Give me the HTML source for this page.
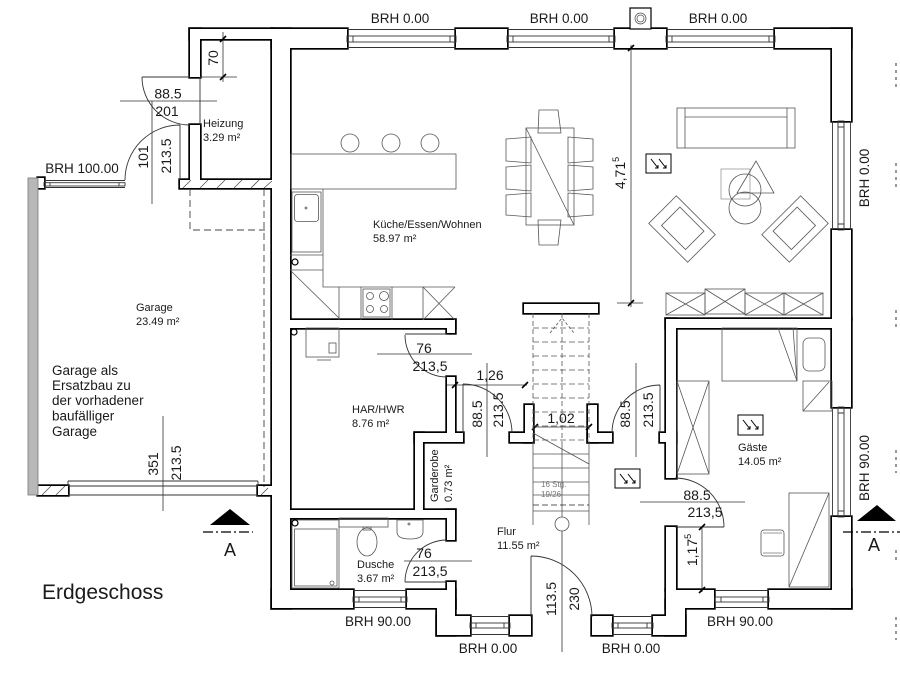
<!DOCTYPE html>
<html><head><meta charset="utf-8"><title>Erdgeschoss</title>
<style>
html,body{margin:0;padding:0;background:#fff;width:900px;height:674px;overflow:hidden}
svg{display:block}
text{font-family:"Liberation Sans",Arial,sans-serif;fill:#1a1a1a}
.t{stroke:#333;stroke-width:.9;fill:none}
.g{stroke:#555;stroke-width:.8;fill:none}
.d{stroke:#333;stroke-width:.8;fill:none}
.k{stroke:#000;stroke-width:1.6;fill:none}
.dash{stroke:#444;stroke-width:.9;fill:none;stroke-dasharray:7 4}
.brh{font-size:13.5px}
.rm{font-size:11px}
.dm{font-size:14px}
</style></head><body>
<svg width="900" height="674" viewBox="0 0 900 674" xmlns="http://www.w3.org/2000/svg">
<rect width="900" height="674" fill="#fff"/>
<defs>
<g id="W">
<rect x="190" y="29" width="82" height="10"/>
<rect x="190" y="29" width="10" height="48"/>
<rect x="190" y="125" width="10" height="55"/>
<rect x="180" y="180" width="92" height="8"/>
<rect x="272" y="29" width="18" height="579"/>
<rect x="272" y="29" width="75" height="19"/>
<rect x="456" y="29" width="51" height="19"/>
<rect x="615" y="29" width="51" height="19"/>
<rect x="775" y="29" width="76" height="19"/>
<rect x="832" y="29" width="19" height="92"/>
<rect x="832" y="230" width="19" height="89"/>
<rect x="832" y="319" width="19" height="88"/>
<rect x="832" y="517" width="19" height="91"/>
<rect x="769" y="590" width="82" height="18"/>
<rect x="666" y="590" width="48" height="18"/>
<rect x="666" y="527" width="10" height="63"/>
<rect x="666" y="600" width="19" height="35"/>
<rect x="653" y="616" width="32" height="19"/>
<rect x="592" y="616" width="20" height="19"/>
<rect x="510" y="616" width="21" height="19"/>
<rect x="437" y="616" width="33" height="19"/>
<rect x="437" y="600" width="18" height="35"/>
<rect x="407" y="590" width="48" height="18"/>
<rect x="447" y="582" width="8" height="26"/>
<rect x="272" y="590" width="81" height="18"/>
<rect x="447" y="510" width="8" height="30"/>
<rect x="290" y="510" width="165" height="8"/>
<rect x="415" y="433" width="48" height="9"/>
<rect x="415" y="433" width="8" height="77"/>
<rect x="447" y="377" width="8" height="56"/>
<rect x="290" y="320" width="165" height="8"/>
<rect x="447" y="320" width="8" height="13"/>
<rect x="510" y="433" width="23" height="9"/>
<rect x="525" y="405" width="8" height="37"/>
<rect x="588" y="433" width="24" height="9"/>
<rect x="588" y="405" width="9" height="37"/>
<rect x="660" y="433" width="16" height="9"/>
<rect x="666" y="319" width="10" height="159"/>
<rect x="666" y="319" width="166" height="9"/>
<rect x="524" y="304" width="74" height="9"/>
<rect x="38" y="178" width="6" height="10"/>
<rect x="38" y="486" width="30" height="9"/>
<rect x="258" y="486" width="14" height="9"/>
</g>
</defs>
<use href="#W" fill="none" stroke="#000" stroke-width="3.4"/>
<use href="#W" fill="#fff" stroke="none"/>

<!-- garage gray wall -->
<rect x="28" y="178" width="10" height="317" fill="#b8b8b8" stroke="#777" stroke-width=".8"/>
<!-- hatch -->
<g class="g">
<path d="M183 188L191 180M200 188L208 180M217 188L225 180M234 188L242 180M251 188L259 180M264 188L272 181"/>
<path d="M42 495L51 486M56 495L65 486M261 495L268 488"/>
</g>
<!-- chimney -->
<rect x="630" y="8" width="21" height="21" fill="#fff" stroke="#000" stroke-width="1.2"/>
<circle cx="640.5" cy="18.5" r="5.5" class="g"/><circle cx="640.5" cy="18.5" r="3.5" class="g"/>

<!-- windows -->
<g class="t">
<path d="M347 29.5H456M347 47.5H456M507 29.5H615M507 47.5H615M666 29.5H775M666 47.5H775"/>
<rect x="347" y="36" width="109" height="6"/><path d="M353 36V42M450 36V42"/>
<rect x="507" y="36" width="108" height="6"/><path d="M513 36V42M609 36V42"/>
<rect x="666" y="36" width="109" height="6"/><path d="M672 36V42M769 36V42"/>
<path d="M832.5 121V230M850.5 121V230M832.5 407V517M850.5 407V517"/>
<rect x="838" y="121" width="6" height="109"/><path d="M838 127H844M838 224H844"/>
<rect x="838" y="407" width="6" height="110"/><path d="M838 413H844M838 511H844"/>
<path d="M353 590.5H407M353 607.5H407M715 590.5H769M715 607.5H769"/>
<rect x="353" y="597" width="54" height="5"/><path d="M359 597V602M401 597V602"/>
<rect x="715" y="597" width="54" height="5"/><path d="M721 597V602M763 597V602"/>
<path d="M470 616.5H510M470 634.5H510M612 616.5H653M612 634.5H653"/>
<rect x="470" y="623" width="40" height="5"/><path d="M476 623V628M504 623V628"/>
<rect x="612" y="623" width="41" height="5"/><path d="M618 623V628M647 623V628"/>
<path d="M44 180.5H125M44 187.5H125"/>
<rect x="44" y="182.7" width="81" height="3.3"/><path d="M50 182.7V186M119 182.7V186"/>
<path d="M68 481H258M68 486H258M68 495H258M68 481V486M258 481V486"/>
</g>

<!-- garage dashed -->
<path class="dash" d="M190 189V230H265M264 189V487"/>

<!-- doors -->
<g class="t">
<path d="M142 77A48 48 0 0 0 190 125M142 77H190M200 77V125"/>
<path d="M125 180A55 55 0 0 1 180 125M180 125V180"/>
<path d="M405 335A42 42 0 0 0 447 377M405 334H447"/>
<path d="M463 384A49 49 0 0 1 512 433M463 384V433"/>
<path d="M612 433A48 48 0 0 1 660 385M660 385V433"/>
<path d="M405 582A42 42 0 0 1 447 540M405 582H447"/>
<path d="M675 478A49 49 0 0 1 724 527M675 527H724"/>
<path d="M531 556A61 61 0 0 1 592 617M531 556V617"/>
</g>

<!-- dimension lines -->
<g class="d">
<path d="M223 32V82M200 77H237"/>
<path d="M120 101H217M152 101V204"/>
<path d="M163 416V511"/>
<path d="M377 354H472"/>
<path d="M447 385H527"/>
<path d="M487 363V457M636 363V457"/>
<path d="M533 427H589"/>
<path d="M631 45V307M617 303H643"/>
<path d="M404 561H472"/>
<path d="M562 531V652"/>
<path d="M640 502H745M702 527V592"/>
</g>
<g class="k">
<path d="M220 42L226 36M220 80L226 74M452 388L458 382M522 388L528 382M532 430L538 424M586 430L592 424M628 51L634 45M628 306L634 300M699 530L705 524M699 593L705 587"/>
</g>

<!-- stairs -->
<g class="g">
<path d="M533 313V442M589 313V442M562 313V442" stroke-dasharray="5 3"/>
<path d="M533 442V525M589 442V525M562 442V517"/>
<path d="M533 328H589M533 342H589M533 356H589M533 370H589M533 384H589M533 398H589M533 412H589M533 426H589M533 440H589" stroke-dasharray="6 3"/>
<path d="M550 333L562 318L574 333" stroke-dasharray="3 2"/>
<path d="M533 454H589M533 468H589M533 482H589M533 495H589M533 511H589"/>
<path d="M533 505H589" stroke-dasharray="6 3" stroke="#222"/>
<path d="M533 433L589 464"/>
<circle cx="562" cy="524" r="7"/>
</g>
<text x="541" y="487" font-size="8" style="fill:#777">16 Stg.</text>
<text x="541" y="497" font-size="8" style="fill:#777">19/26</text>

<!-- kitchen -->
<g class="g">
<circle cx="350" cy="143" r="9"/><circle cx="391" cy="143" r="9"/><circle cx="430" cy="143" r="9"/>
<rect x="291" y="154" width="165" height="35"/>
<path d="M323 189V287H455"/>
<rect x="292" y="192" width="29" height="60"/>
<rect x="294.5" y="194.5" width="24" height="27" rx="3"/>
<circle cx="306" cy="208" r="1"/>
<path d="M290 255H323M290 270H323M291 271L339 318"/>
<path d="M339 287V320M361 287V320M392 287V320M423 287V320"/>
<rect x="363" y="289" width="27" height="28"/>
<circle cx="370" cy="296" r="3.5"/><circle cx="384" cy="296" r="4.5"/><circle cx="370" cy="309" r="3.5"/><circle cx="384" cy="309" r="3.5"/>
<path d="M423 287L455 320M455 287L423 320"/>
</g>
<circle cx="295" cy="262" r="3" fill="none" stroke="#000" stroke-width="1.2"/>

<!-- dining -->
<g class="g">
<rect x="526" y="128" width="48" height="97"/>
<path d="M526 128L574 225"/>
<path d="M539 110H558L561 133H538Z"/>
<path d="M538 220H561L558 245H539Z"/>
<path d="M506 139L531 137V163L506 161Z"/>
<path d="M506 167L531 165V191L506 189Z"/>
<path d="M506 195L531 193V217L506 215Z"/>
<path d="M568 137L593 139V161L568 163Z"/>
<path d="M568 165L593 167V189L568 191Z"/>
<path d="M568 193L593 195V215L568 217Z"/>
</g>

<!-- living -->
<g class="g">
<rect x="677" y="108" width="118" height="40"/>
<path d="M685 108V148M787 108V148M685 117H787"/>
<rect x="721" y="169" width="29" height="30" stroke="#999"/>
<circle cx="745" cy="190" r="16"/><circle cx="745" cy="208" r="16"/>
<path d="M756 161L737 193H774Z"/>
<g transform="translate(682 229) rotate(45)"><rect x="-27.5" y="-19.5" width="55" height="39"/><rect x="-17" y="-14" width="34" height="26"/></g>
<g transform="translate(795 229) rotate(-45)"><rect x="-27.5" y="-19.5" width="55" height="39"/><rect x="-17" y="-14" width="34" height="26"/></g>
<rect x="666" y="293" width="39" height="22"/><path d="M666 293L705 315M705 293L666 315"/>
<rect x="705" y="289" width="40" height="25"/><path d="M705 289L745 314M745 289L705 314"/>
<rect x="745" y="293" width="39" height="22"/><path d="M745 293L784 315M784 293L745 315"/>
<rect x="784" y="293" width="39" height="22"/><path d="M784 293L823 315M823 293L784 315"/>
</g>

<!-- HAR -->
<g class="g">
<rect x="306" y="328" width="33" height="29"/>
<rect x="329" y="343" width="7" height="10"/>
<path d="M317 360H331"/>
</g>
<circle cx="294" cy="332" r="3" fill="none" stroke="#000" stroke-width="1.2"/>

<!-- Dusche -->
<g class="g">
<rect x="292" y="520" width="47" height="68"/>
<rect x="294.5" y="529" width="42.5" height="57"/>
<circle cx="332" cy="583" r="2"/>
<rect x="339" y="518" width="49" height="9"/>
<ellipse cx="367" cy="542" rx="10" ry="14"/>
<rect x="363" y="527" width="8" height="3"/>
<path d="M397 520H423V532Q423 539 410 539Q397 539 397 532Z"/>
<circle cx="409" cy="524" r="1"/>
</g>
<circle cx="295" cy="523" r="3" fill="none" stroke="#000" stroke-width="1.2"/>

<!-- Gaeste -->
<g class="g">
<rect x="722" y="328" width="75" height="53"/>
<path d="M778 328L797 381M793 328L797 381"/>
<rect x="803" y="338" width="22" height="33" rx="6"/>
<rect x="803" y="381" width="29" height="30"/><path d="M803 411L829 382"/>
<rect x="677" y="381" width="32" height="93"/><path d="M677 381L709 474M709 381L677 474"/>
<rect x="789" y="493" width="40" height="94"/><path d="M789 587L829 493"/>
<rect x="761" y="530" width="23" height="26" rx="3"/>
<path d="M763 533H782M763 553H782" stroke="#777"/>
</g>

<!-- electrical symbols -->
<g fill="none" stroke="#000" stroke-width="1">
<rect x="646" y="154" width="25" height="19"/><path d="M651 159L658 168M659 159L666 168M655 168H658V165M663 168H666V165"/>
<rect x="615" y="469" width="25" height="19"/><path d="M620 474L627 483M628 474L635 483M624 483H627V480M632 483H635V480"/>
<rect x="738" y="415" width="25" height="20"/><path d="M743 420L750 429M751 420L758 429M747 429H750V426M755 429H758V426"/>
</g>

<!-- section markers -->
<path d="M210 525L230 509L250 525Z" fill="#000"/>
<path d="M203 532H253" stroke="#000" stroke-width="1.3" stroke-dasharray="10 3 2 3"/>
<text x="230" y="556" font-size="18" text-anchor="middle">A</text>
<path d="M857 521L877 505L896 521Z" fill="#000"/>
<path d="M843 532H900" stroke="#000" stroke-width="1.3" stroke-dasharray="10 3 2 3"/>
<text x="874" y="551" font-size="18" text-anchor="middle">A</text>

<!-- far right marks -->
<path d="M896 63V87M896 163V187M896 310V330M896 450V473M896 550V563M896 617V640" stroke="#999" stroke-width="2" stroke-dasharray="3 4"/>

<!-- BRH labels -->
<g class="brh" text-anchor="middle">
<text x="400" y="23">BRH 0.00</text>
<text x="559" y="23">BRH 0.00</text>
<text x="718" y="23">BRH 0.00</text>
<text x="82" y="173">BRH 100.00</text>
<text x="378" y="626">BRH 90.00</text>
<text x="488" y="653">BRH 0.00</text>
<text x="631" y="653">BRH 0.00</text>
<text x="740" y="626">BRH 90.00</text>
<text transform="translate(869 178) rotate(-90)">BRH 0.00</text>
<text transform="translate(869 468) rotate(-90)">BRH 90.00</text>
</g>

<!-- room labels -->
<g class="rm">
<text x="203" y="127">Heizung</text>
<text x="203" y="141">3.29 m²</text>
<text x="373" y="228">Küche/Essen/Wohnen</text>
<text x="373" y="242">58.97 m²</text>
<text x="136" y="311">Garage</text>
<text x="136" y="325">23.49 m²</text>
<text x="352" y="413">HAR/HWR</text>
<text x="352" y="427">8.76 m²</text>
<text x="357" y="568">Dusche</text>
<text x="357" y="582">3.67 m²</text>
<text x="497" y="535">Flur</text>
<text x="497" y="549">11.55 m²</text>
<text x="738" y="451">Gäste</text>
<text x="738" y="465">14.05 m²</text>
<text transform="translate(438 502) rotate(-90)">Garderobe</text>
<text transform="translate(452 502) rotate(-90)">0.73 m²</text>
</g>

<!-- garage note -->
<g font-size="13.5">
<text x="52" y="375">Garage als</text>
<text x="52" y="390">Ersatzbau zu</text>
<text x="52" y="405">der vorhadener</text>
<text x="52" y="420.5">baufälliger</text>
<text x="52" y="436">Garage</text>
</g>
<text x="42" y="599" font-size="21">Erdgeschoss</text>

<!-- dimension texts -->
<g class="dm" text-anchor="middle">
<text transform="translate(218 58) rotate(-90)">70</text>
<text x="168" y="98.5">88.5</text>
<text x="167" y="116">201</text>
<text transform="translate(148 157) rotate(-90)">101</text>
<text transform="translate(171 156) rotate(-90)">213.5</text>
<text transform="translate(158 464) rotate(-90)">351</text>
<text transform="translate(181 463) rotate(-90)">213.5</text>
<text x="424" y="353">76</text>
<text x="430" y="371">213,5</text>
<text x="490" y="380">1,26</text>
<text transform="translate(482 414) rotate(-90)">88.5</text>
<text transform="translate(503 410) rotate(-90)">213.5</text>
<text transform="translate(630 414) rotate(-90)">88.5</text>
<text transform="translate(653 410) rotate(-90)">213.5</text>
<text x="561" y="423">1,02</text>
<text transform="translate(625 173) rotate(-90)">4,71<tspan font-size="9" dy="-6">5</tspan></text>
<text x="424" y="558">76</text>
<text x="430" y="576">213,5</text>
<text transform="translate(556 599) rotate(-90)">113.5</text>
<text transform="translate(579 599) rotate(-90)">230</text>
<text x="697" y="500">88.5</text>
<text x="705" y="517">213,5</text>
<text transform="translate(697 550) rotate(-90)">1,17<tspan font-size="9" dy="-6">5</tspan></text>
</g>
</svg>
</body></html>
